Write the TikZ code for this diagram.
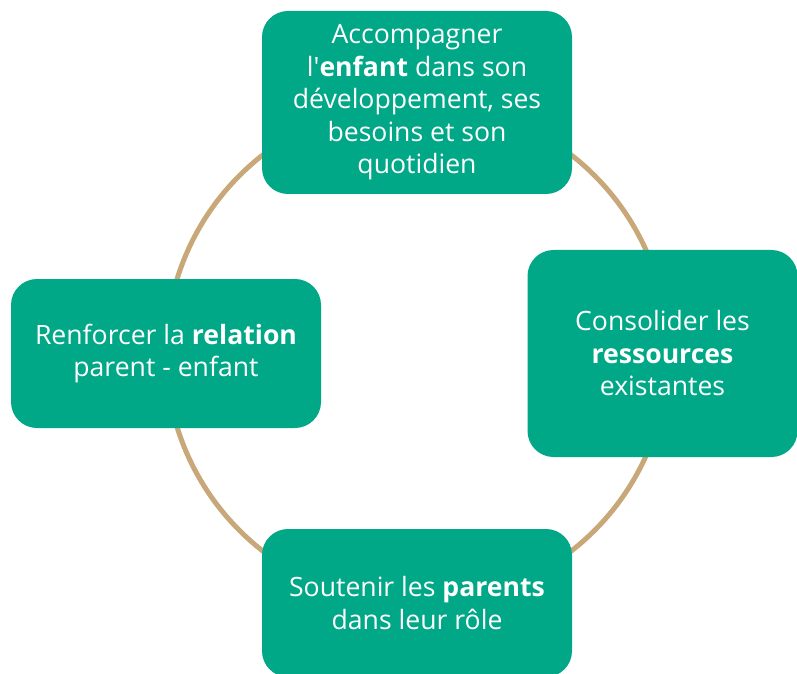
\documentclass[tikz,border=0pt]{standalone}
\usepackage{fontspec}
\setmainfont{Open Sans}[Ligatures=TeXOff]
\usepackage{tikz}
\definecolor{boxgreen}{RGB}{0,168,136}
\definecolor{ringtan}{RGB}{200,168,120}

\begin{document}
\begin{tikzpicture}[x=1pt, y=1pt,
                    line cap=round, line join=round,
                    stepbox/.style={fill=boxgreen, text=white, rounded corners=26pt,
                                    align=center, inner sep=0pt,
                                    font=\fontsize{26.6}{32.5}\selectfont},
                    ring/.style={ringtan, line width=5pt}]
  \def\W{797}
  \def\H{673}
  \def\R{251}

  % page frame
  \clip (0,0) rectangle (\W,\H);

  % ring behind the boxes
  \coordinate (centre) at (417,320);
  \draw[ring] (centre) circle (\R);

  % the four steps
  \node[stepbox, minimum width=310pt, minimum height=183pt] (enfant) at (417,570.5)
    {Accompagner\\l'\textbf{enfant} dans son\\développement, ses\\besoins et son\\quotidien};
  \node[stepbox, minimum width=270pt, minimum height=207pt] (ressources) at (662.5,319.5)
    {Consolider les\\\textbf{ressources}\\existantes};
  \node[stepbox, minimum width=310pt, minimum height=148pt] (parents) at (417,70)
    {Soutenir les \textbf{parents}\\dans leur rôle};
  \node[stepbox, minimum width=310pt, minimum height=149pt] (relation) at (166,319.5)
    {Renforcer la \textbf{relation}\\parent - enfant};

\end{tikzpicture}
\end{document}
